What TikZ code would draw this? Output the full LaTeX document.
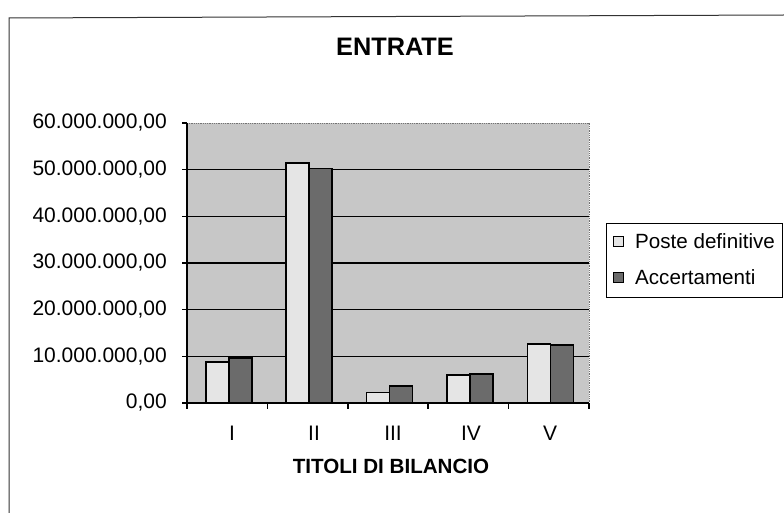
\documentclass[tikz,border=0pt]{standalone}
\usepackage{fontspec}
\setmainfont{Liberation Sans}
\definecolor{plotbg}{gray}{0.78}
\definecolor{pdfill}{gray}{0.90}
\definecolor{acfill}{gray}{0.42}
\begin{document}
\begin{tikzpicture}[x=1pt,y=-1pt,
  lbl/.style={font=\fontsize{21}{21}\selectfont, inner sep=0pt},
  legtxt/.style={font=\fontsize{20.6}{20.6}\selectfont, inner sep=0pt, anchor=west},
  ttl/.style={font=\bfseries\fontsize{25.3}{25.3}\selectfont, inner sep=0pt},
  xttl/.style={font=\bfseries\fontsize{20.6}{20.6}\selectfont, inner sep=0pt},
  frame/.style={draw=black!80, line width=1pt},
  plotedge/.style={draw=black!55, line width=0.8pt, densely dotted},
  gridln/.style={draw=black, line width=1.1pt},
  axisln/.style={draw=black, line width=1.5pt},
  pdbar/.style={fill=pdfill, draw=black, line width=1.5pt},
  acbar/.style={fill=acfill, draw=black, line width=1.5pt},
  legbox/.style={draw=black, line width=1pt, fill=white}]
\useasboundingbox (0,0) rectangle (784,513);
% outer frame
\draw[frame] (784,15) -- (9,18) -- (9,513);
% plot area
\fill[plotbg] (187,123) rectangle (589,403);
\draw[plotedge] (187,123) -- (589,123) -- (589,403);
\foreach \v in {1,...,5}
  \draw[gridln] (187,{403-46.667*\v}) -- (589,{403-46.667*\v});
% bars
\foreach \i/\p/\a in {1/8.8/9.6, 2/51.4/50.3, 3/2.3/3.6, 4/6.0/6.2, 5/12.6/12.4}{
  \pgfmathsetmacro{\cx}{187+80.4*(\i-0.5)+1.6}
  \draw[pdbar] ({\cx-23},403) rectangle (\cx,{403-4.6667*\p});
  \draw[acbar] (\cx,403) rectangle ({\cx+23},{403-4.6667*\a});
}
% axes
\draw[axisln] (187,123) -- (187,403) -- (589,403);
\foreach \v in {0,...,6}
  \draw[axisln] (182,{403-46.667*\v}) -- (187,{403-46.667*\v});
\foreach \i in {0,...,5}
  \draw[axisln] ({187+80.4*\i},403) -- ({187+80.4*\i},409);
% y labels
\node[lbl, anchor=east] (y0) at (167,403) {0,00};
\node[lbl, anchor=east] (y1) at (167,356.3) {10.000.000,00};
\node[lbl, anchor=east] (y2) at (167,309.7) {20.000.000,00};
\node[lbl, anchor=east] (y3) at (167,263) {30.000.000,00};
\node[lbl, anchor=east] (y4) at (167,216.3) {40.000.000,00};
\node[lbl, anchor=east] (y5) at (167,169.7) {50.000.000,00};
\node[lbl, anchor=east] (y6) at (167,123) {60.000.000,00};
% category labels
\node[lbl] (c1) at (232,433) {I};
\node[lbl] (c2) at (314,433) {II};
\node[lbl] (c3) at (393,433) {III};
\node[lbl] (c4) at (471,433) {IV};
\node[lbl] (c5) at (550,433) {V};
% titles
\node[ttl] (title) at (395,47) {ENTRATE};
\node[xttl] (xtitle) at (391,466) {TITOLI DI BILANCIO};
% legend
\draw[legbox] (606,223) rectangle (782,297);
\draw[pdbar, line width=1pt] (613,236) rectangle (623,246);
\draw[acbar, line width=1pt] (613,272) rectangle (623,282);
\node[legtxt] (l1) at (635,241) {Poste definitive};
\node[legtxt] (l2) at (635,277) {Accertamenti};
\end{tikzpicture}
\end{document}
